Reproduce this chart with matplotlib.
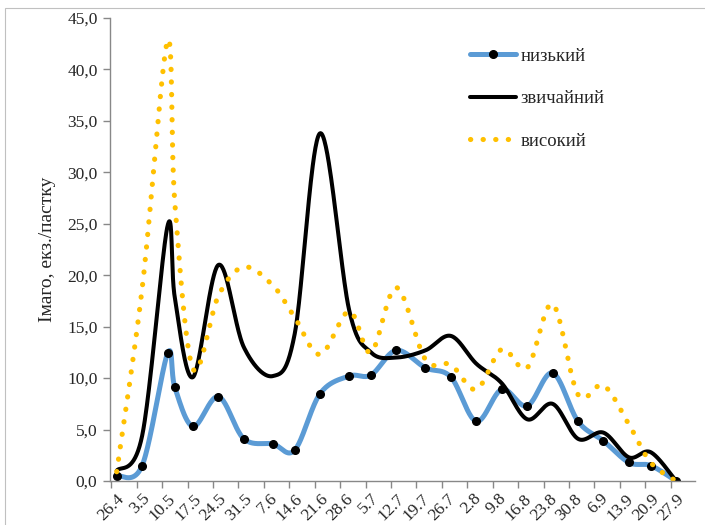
import numpy as np
import matplotlib
matplotlib.use("Agg")
import matplotlib.pyplot as plt
from matplotlib.patches import Rectangle

# ---- data -------------------------------------------------------------
# sampling day offsets from 26.4
days = [0, 7, 14, 16, 21, 28, 35, 43, 49, 56, 64, 70, 77, 85, 92, 99,
        106, 113, 120, 127, 134, 141, 147, 154]
low = [0.5, 1.5, 12.4, 9.1, 5.3, 8.2, 4.1, 3.6, 3.0, 8.5, 10.2, 10.3, 12.7,
       11.0, 10.1, 5.8, 8.9, 7.3, 10.5, 5.8, 3.9, 1.8, 1.5, 0.0]
normal = [1.0, 4.4, 24.8, 17.8, 10.1, 21.0, 13.0, 10.2, 14.3, 33.8, 16.6,
          12.5, 12.0, 12.7, 14.1, 11.4, 9.5, 6.0, 7.5, 4.1, 4.7, 2.3, 2.8, 0.0]
high = [0.9, 18.7, 42.8, 27.0, 10.9, 18.0, 20.8, 19.0, 15.9, 12.3, 16.5,
        12.5, 18.8, 11.8, 11.3, 8.9, 12.8, 11.0, 17.2, 8.4, 9.3, 5.5, 1.8, 0.0]
series_names = ["низький", "звичайний", "високий"]

tick_labels = ["26.4", "3.5", "10.5", "17.5", "24.5", "31.5", "7.6", "14.6",
               "21.6", "28.6", "5.7", "12.7", "19.7", "26.7", "2.8", "9.8",
               "16.8", "23.8", "30.8", "6.9", "13.9", "20.9", "27.9"]
tick_days = list(range(0, 155, 7))
y_ticks = list(range(0, 46, 5))

NSEG = 40


def smooth(x, y, n=NSEG):
    """Excel-like smoothed line (Catmull-Rom Bezier segments)."""
    P = np.column_stack([x, y]).astype(float)
    m = len(P)
    out = []
    t = np.linspace(0, 1, n, endpoint=False)[:, None]
    for i in range(m - 1):
        p0 = P[i - 1] if i > 0 else P[i]
        p1, p2 = P[i], P[i + 1]
        p3 = P[i + 2] if i + 2 < m else P[i + 1]
        c1 = p1 + (p2 - p0) / 6.0
        c2 = p2 - (p3 - p1) / 6.0
        seg = ((1 - t) ** 3) * p1 + 3 * ((1 - t) ** 2) * t * c1 \
            + 3 * (1 - t) * t ** 2 * c2 + t ** 3 * p2
        out.append(seg)
    out.append(P[-1:])
    return np.vstack(out)


plt.rcParams["font.family"] = ["Liberation Serif", "DejaVu Serif"]
W, H = 705, 525
fig = plt.figure(figsize=(W / 100, H / 100), dpi=100)
fig.add_artist(Rectangle((5 / W, -0.5), 2, 0.5 + (H - 8) / H,
                         transform=fig.transFigure, fill=False,
                         edgecolor="#c0c0c0", lw=0.8))

ax = fig.add_axes([110 / W, 44 / H, 585 / W, 463 / H])

c_low = smooth(days, low)
c_norm = smooth(days, normal)
c_high = smooth(days, high)
mk = list(range(0, NSEG * (len(days) - 1) + 1, NSEG))

ax.plot(c_low[:, 0], c_low[:, 1], color="#5B9BD5", lw=3.6,
        solid_capstyle="round", marker="o", markevery=mk, markersize=5.5,
        markerfacecolor="black", markeredgecolor="black",
        label=series_names[0])
ax.plot(c_norm[:, 0], c_norm[:, 1], color="black", lw=2.9,
        solid_capstyle="round", label=series_names[1])
ax.plot(c_high[:, 0], c_high[:, 1], color="#FFC000", lw=3.7,
        linestyle=(0, (0.05, 2.4)), dash_capstyle="round",
        label=series_names[2])

ax.set_xlim(-1.85, 159.2)
ax.set_ylim(0, 45)

ax.set_yticks(y_ticks)
ax.set_yticklabels([f"{v:.1f}".replace(".", ",") for v in y_ticks])
ax.set_xticks(tick_days)
ax.set_xticklabels(tick_labels, rotation=45, ha="right", va="top",
                   rotation_mode="anchor")
ax.set_xticks([d - 1.5 for d in tick_days], minor=True)
ax.tick_params(axis="x", which="major", length=0, pad=7, labelsize=12.5,
               labelcolor="#262626")
ax.tick_params(axis="x", which="minor", length=5, width=1,
               color="#888888", direction="out")
ax.tick_params(axis="y", length=5, width=1, color="#888888",
               direction="out", labelsize=12.5, labelcolor="#262626", pad=4)

for s in ("top", "right"):
    ax.spines[s].set_visible(False)
for s in ("left", "bottom"):
    ax.spines[s].set_color("#888888")
    ax.spines[s].set_linewidth(1)

ax.set_ylabel("Імаго, екз./пастку", fontsize=14, color="#262626",
              labelpad=8)

leg = ax.legend(loc="upper left", bbox_to_anchor=(463 / W, 1 - 40 / H),
                bbox_transform=fig.transFigure, frameon=False, fontsize=13.5,
                handlelength=2.45, labelspacing=1.35, handletextpad=0.2,
                borderaxespad=0)
for t in leg.get_texts():
    t.set_color("#262626")

fig.savefig("out.png", dpi=100)
